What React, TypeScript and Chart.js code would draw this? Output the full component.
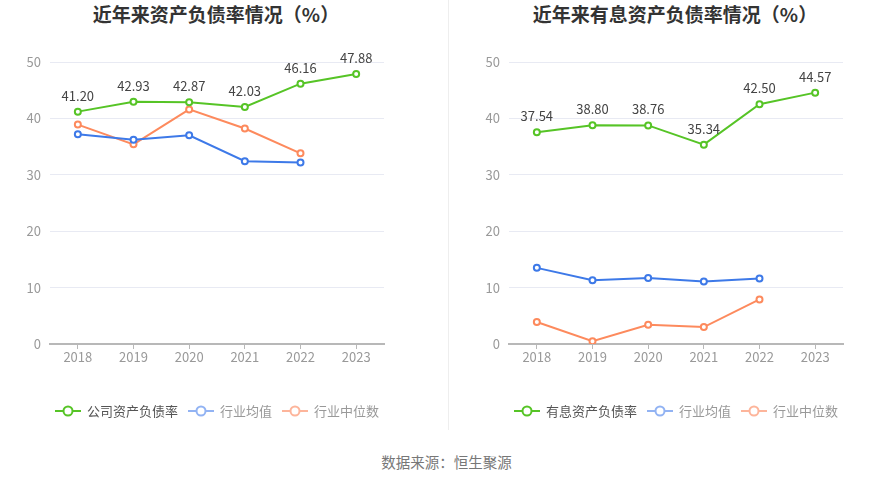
import React, { useEffect, useRef } from "react";
import { Chart, registerables } from "chart.js";

Chart.register(...registerables);

const FAMILY = "'Noto Sans CJK SC', 'Noto Sans', sans-serif";

const years = ["2018", "2019", "2020", "2021", "2022", "2023"];
const yTickMin = 0;
const yTickMax = 50;
const yTickStep = 10;

const leftTitle = "近年来资产负债率情况（%）";
const leftCompanyLabel = "公司资产负债率";
const leftCompany = [41.2, 42.93, 42.87, 42.03, 46.16, 47.88];
const leftMean = [37.2, 36.2, 37.0, 32.4, 32.2, null];
const leftMedian = [38.9, 35.4, 41.6, 38.2, 33.8, null];

const rightTitle = "近年来有息资产负债率情况（%）";
const rightCompanyLabel = "有息资产负债率";
const rightCompany = [37.54, 38.8, 38.76, 35.34, 42.5, 44.57];
const rightMean = [13.5, 11.3, 11.7, 11.1, 11.6, null];
const rightMedian = [3.9, 0.5, 3.4, 3.0, 7.9, null];

const meanLabel = "行业均值";
const medianLabel = "行业中位数";
const sourceText = "数据来源：恒生聚源";

const GREEN = "#56c426";
const BLUE = "#3d79e8";
const ORANGE = "#fd8a5d";
const BLUE_LIGHT = "#92b3f3";
const ORANGE_LIGHT = "#fdb59b";

function makeIcon(color: string): HTMLCanvasElement {
  const c = document.createElement("canvas");
  c.width = 26;
  c.height = 14;
  const ctx = c.getContext("2d")!;
  ctx.strokeStyle = color;
  ctx.lineWidth = 2;
  ctx.beginPath();
  ctx.moveTo(0, 7);
  ctx.lineTo(8, 7);
  ctx.moveTo(18, 7);
  ctx.lineTo(26, 7);
  ctx.stroke();
  ctx.beginPath();
  ctx.arc(13, 7, 4.5, 0, Math.PI * 2);
  ctx.fillStyle = "#fff";
  ctx.fill();
  ctx.stroke();
  return c;
}

interface LineChartProps {
  company: number[];
  mean: (number | null)[];
  median: (number | null)[];
  companyLabel: string;
  yAxisWidth: number;
  padRight: number;
}

function LineChart({ company, mean, median, companyLabel, yAxisWidth, padRight }: LineChartProps) {
  const ref = useRef<HTMLCanvasElement>(null);
  useEffect(() => {
    const icons = [makeIcon(GREEN), makeIcon(BLUE_LIGHT), makeIcon(ORANGE_LIGHT)];
    const legendTexts = [companyLabel, meanLabel, medianLabel];
    const textColors = ["#555", "#999", "#999"];
    const valueLabels = {
      id: "valueLabels",
      afterDatasetsDraw(chart: any) {
        const meta = chart.getDatasetMeta(0);
        const ctx = chart.ctx;
        ctx.save();
        ctx.font = `13px ${FAMILY}`;
        ctx.fillStyle = "#444";
        ctx.textAlign = "center";
        ctx.textBaseline = "middle";
        meta.data.forEach((pt: any, i: number) => {
          ctx.fillText(company[i].toFixed(2), pt.x, pt.y - 16);
        });
        ctx.restore();
      },
    };
    const legendPlugin = {
      id: "customLegend",
      afterDraw(chart: any) {
        const ctx = chart.ctx;
        const area = chart.chartArea;
        ctx.save();
        ctx.font = `13px ${FAMILY}`;
        const iconW = 26;
        const gap = 6;
        const itemGap = 10;
        const widths = legendTexts.map((t) => iconW + gap + ctx.measureText(t).width);
        const total = widths.reduce((a, b) => a + b, 0) + itemGap * (widths.length - 1);
        let x = (area.left + area.right) / 2 - total / 2;
        const y = area.bottom + 67;
        ctx.textBaseline = "middle";
        ctx.textAlign = "left";
        legendTexts.forEach((t, i) => {
          ctx.drawImage(icons[i], Math.round(x), Math.round(y - 7));
          ctx.fillStyle = textColors[i];
          ctx.fillText(t, x + iconW + gap, y);
          x += widths[i] + itemGap;
        });
        ctx.restore();
      },
    };
    const ds = (label: string, data: (number | null)[], color: string) => ({
      label,
      data,
      borderColor: color,
      backgroundColor: "#fff",
      borderWidth: 2,
      pointRadius: 3,
      pointBorderWidth: 2,
      pointBackgroundColor: "#fff",
      pointBorderColor: color,
      tension: 0,
      spanGaps: false,
    });
    const chart = new Chart(ref.current!, {
      type: "line",
      data: {
        labels: years,
        datasets: [
          ds(companyLabel, company, GREEN),
          ds(meanLabel, mean, BLUE),
          ds(medianLabel, median, ORANGE),
        ],
      },
      options: {
        animation: false,
        responsive: true,
        maintainAspectRatio: false,
        layout: { padding: { left: 0, right: padRight, top: 62, bottom: 75 } },
        scales: {
          x: {
            offset: true,
            grid: {
              display: true,
              drawOnChartArea: false,
              drawTicks: true,
              tickLength: 5,
              color: "#b8b8b8",
            },
            border: { display: true, color: "#b8b8b8", width: 2 },
            ticks: {
              color: "#999",
              font: { size: 13, family: FAMILY },
              padding: 0,
              maxRotation: 0,
            },
            afterFit: (s: any) => {
              s.height = 21;
            },
          },
          y: {
            min: yTickMin,
            max: yTickMax,
            ticks: {
              stepSize: yTickStep,
              color: "#999",
              font: { size: 13, family: FAMILY },
              padding: 9,
            },
            grid: { color: "#e8eaf3", drawTicks: false, lineWidth: 1 },
            border: { display: false },
            afterFit: (s: any) => {
              s.width = yAxisWidth;
            },
          },
        },
        plugins: {
          title: { display: false },
          tooltip: { enabled: false },
          legend: { display: false },
        },
      },
      plugins: [valueLabels, legendPlugin],
    } as any);
    return () => chart.destroy();
  }, []);
  return <canvas ref={ref} />;
}

export default function App() {
  const titleStyle: React.CSSProperties = {
    position: "absolute",
    top: 4,
    fontFamily: FAMILY,
    fontWeight: "bold",
    fontSize: 19,
    lineHeight: "19px",
    color: "#333",
    textAlign: "center",
    whiteSpace: "nowrap",
  };
  return (
    <div
      style={{
        position: "absolute",
        left: 0,
        top: 0,
        width: 893,
        height: 481,
        background: "#fff",
        overflow: "hidden",
      }}
    >
      <div style={{ ...titleStyle, left: 0, width: 432 }}>{leftTitle}</div>
      <div style={{ ...titleStyle, left: 446, width: 458 }}>{rightTitle}</div>
      <div style={{ position: "absolute", left: 0, top: 0, width: 446, height: 440 }}>
        <LineChart
          company={leftCompany}
          mean={leftMean}
          median={leftMedian}
          companyLabel={leftCompanyLabel}
          yAxisWidth={50}
          padRight={62}
        />
      </div>
      <div style={{ position: "absolute", left: 448, top: 0, width: 1, height: 430, background: "#eeeeee" }} />
      <div style={{ position: "absolute", left: 446, top: 0, width: 447, height: 440 }}>
        <LineChart
          company={rightCompany}
          mean={rightMean}
          median={rightMedian}
          companyLabel={rightCompanyLabel}
          yAxisWidth={63}
          padRight={50}
        />
      </div>
      <div
        style={{
          position: "absolute",
          left: 0,
          top: 453,
          width: 893,
          textAlign: "center",
          fontFamily: FAMILY,
          fontSize: 14.5,
          lineHeight: "18px",
          color: "#777",
        }}
      >
        {sourceText}
      </div>
    </div>
  );
}
